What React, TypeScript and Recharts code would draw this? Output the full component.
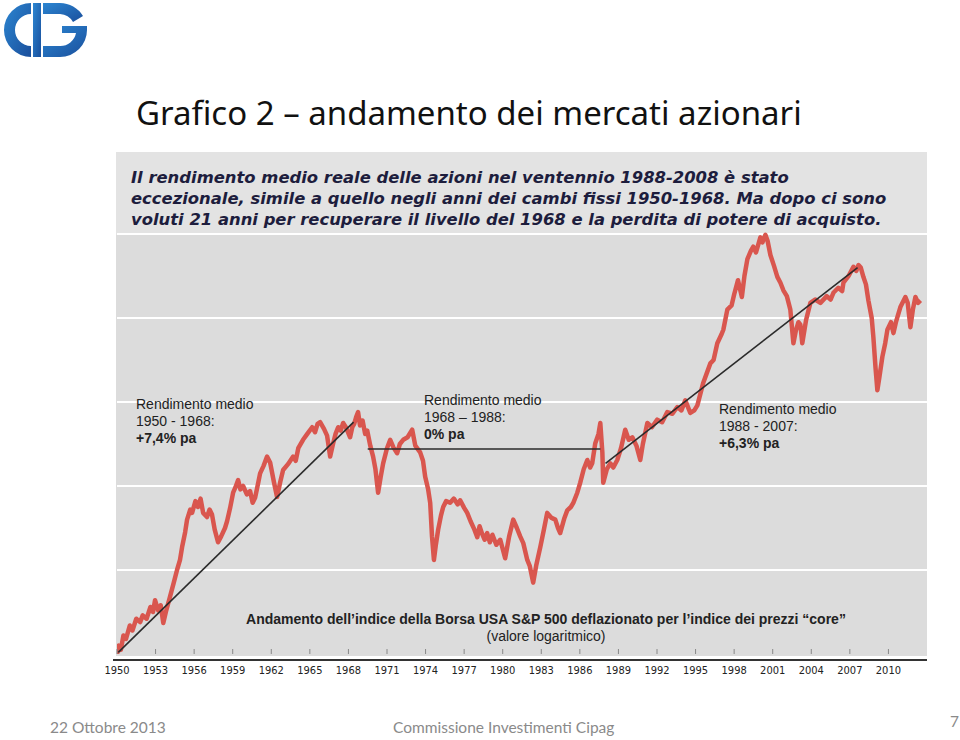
import { LineChart, Line, XAxis, YAxis, ReferenceLine } from "recharts";

// S&P 500 reale, scala logaritmica (1 unità = una linea della griglia)
const years = [
  1950.0, 1950.15, 1950.3, 1950.5, 1950.7, 1951.0, 1951.2, 1951.5, 1951.8, 1952.0,
  1952.3, 1952.6, 1952.8, 1952.96, 1953.2, 1953.4, 1953.6, 1953.8, 1954.12, 1954.4,
  1954.67, 1954.9, 1955.06, 1955.3, 1955.45, 1955.7, 1955.84, 1956.1, 1956.3, 1956.5,
  1956.7, 1957.0, 1957.2, 1957.39, 1957.6, 1957.86, 1958.1, 1958.4, 1958.56, 1958.8,
  1959.03, 1959.2, 1959.42, 1959.6, 1959.81, 1960.1, 1960.35, 1960.55, 1960.74, 1961.0,
  1961.13, 1961.4, 1961.67, 1961.91, 1962.2, 1962.45, 1962.7, 1962.92, 1963.3, 1963.7,
  1963.9, 1964.1, 1964.47, 1964.8, 1965.18, 1965.4, 1965.6, 1965.8, 1966.1, 1966.34,
  1966.58, 1966.8, 1967.0, 1967.2, 1967.4, 1967.59, 1967.8, 1968.13, 1968.3, 1968.45,
  1968.6, 1968.75, 1968.9, 1969.1, 1969.3, 1969.46, 1969.7, 1969.92, 1970.1, 1970.31,
  1970.5, 1970.7, 1971.0, 1971.25, 1971.5, 1971.79, 1972.0, 1972.26, 1972.6, 1972.96,
  1973.2, 1973.58, 1973.8, 1973.97, 1974.2, 1974.36, 1974.5, 1974.65, 1974.8, 1974.98,
  1975.2, 1975.37, 1975.6, 1975.91, 1976.2, 1976.5, 1976.69, 1977.0, 1977.24, 1977.5,
  1977.8, 1978.02, 1978.2, 1978.4, 1978.6, 1978.79, 1979.0, 1979.2, 1979.5, 1979.81,
  1980.0, 1980.19, 1980.5, 1980.82, 1981.1, 1981.36, 1981.6, 1981.91, 1982.1, 1982.37,
  1982.6, 1982.92, 1983.2, 1983.46, 1983.8, 1984.09, 1984.3, 1984.47, 1984.8, 1985.02,
  1985.3, 1985.49, 1985.8, 1986.03, 1986.3, 1986.58, 1986.8, 1986.96, 1987.2, 1987.45,
  1987.59, 1987.75, 1987.82, 1988.1, 1988.37, 1988.6, 1988.91, 1989.2, 1989.53, 1989.8,
  1990.08, 1990.4, 1990.7, 1990.9, 1991.25, 1991.6, 1992.02, 1992.4, 1992.8, 1993.2,
  1993.58, 1993.9, 1994.2, 1994.59, 1994.9, 1995.14, 1995.6, 1996.15, 1996.4, 1996.69,
  1997.0, 1997.16, 1997.47, 1997.8, 1998.0, 1998.3, 1998.6, 1998.8, 1999.03, 1999.3,
  1999.49, 1999.7, 2000.04, 2000.2, 2000.43, 2000.6, 2000.82, 2001.1, 2001.36, 2001.6,
  2001.83, 2002.1, 2002.37, 2002.61, 2002.8, 2003.0, 2003.15, 2003.3, 2003.6, 2003.93,
  2004.3, 2004.71, 2005.2, 2005.5, 2005.72, 2006.1, 2006.4, 2006.5, 2006.9, 2007.28,
  2007.5, 2007.67, 2007.85, 2008.05, 2008.25, 2008.44, 2008.7, 2008.83, 2009.0, 2009.14,
  2009.3, 2009.53, 2009.75, 2009.92, 2010.2, 2010.39, 2010.6, 2010.93, 2011.32, 2011.5,
  2011.71, 2011.9, 2012.1, 2012.3, 2012.49,
];
const realIndex = [
  0.0, 0.1, 0.05, 0.22, 0.18, 0.34, 0.28, 0.42, 0.38, 0.46,
  0.42, 0.56, 0.5, 0.64, 0.52, 0.58, 0.37, 0.5, 0.68, 0.84,
  1.0, 1.12, 1.27, 1.45, 1.6, 1.72, 1.68, 1.82, 1.75, 1.85,
  1.68, 1.63, 1.72, 1.66, 1.48, 1.33, 1.4, 1.5, 1.58, 1.74,
  1.92, 1.98, 2.07, 1.96, 2.0, 1.9, 1.94, 1.8, 1.86, 2.05,
  2.15, 2.24, 2.35, 2.28, 2.05, 1.87, 2.05, 2.19, 2.26, 2.35,
  2.3, 2.45, 2.55, 2.62, 2.7, 2.64, 2.74, 2.76, 2.68, 2.6,
  2.35, 2.5, 2.62, 2.7, 2.66, 2.75, 2.7, 2.58, 2.7, 2.74,
  2.82, 2.88, 2.72, 2.78, 2.62, 2.66, 2.48, 2.35, 2.2, 1.92,
  2.1, 2.27, 2.45, 2.55, 2.46, 2.39, 2.5, 2.55, 2.58, 2.67,
  2.48, 2.4, 2.3, 2.11, 1.96, 1.8, 1.4, 1.12, 1.3, 1.48,
  1.65, 1.75, 1.82, 1.8, 1.85, 1.78, 1.83, 1.74, 1.68, 1.58,
  1.48, 1.39, 1.52, 1.43, 1.36, 1.44, 1.33, 1.42, 1.3, 1.36,
  1.25, 1.14, 1.4, 1.6, 1.5, 1.4, 1.32, 1.12, 1.05, 0.85,
  1.05, 1.27, 1.48, 1.68, 1.62, 1.6, 1.5, 1.44, 1.62, 1.71,
  1.75, 1.8, 1.92, 2.04, 2.2, 2.31, 2.22, 2.27, 2.51, 2.62,
  2.75, 2.4, 2.04, 2.2, 2.27, 2.22, 2.31, 2.45, 2.67, 2.55,
  2.58, 2.48, 2.31, 2.5, 2.75, 2.7, 2.79, 2.76, 2.88, 2.86,
  2.94, 2.9, 3.02, 2.87, 2.9, 2.96, 3.23, 3.46, 3.5, 3.7,
  3.8, 3.86, 4.1, 4.15, 4.28, 4.45, 4.25, 4.5, 4.7, 4.8,
  4.85, 4.78, 4.96, 4.9, 4.99, 4.92, 4.75, 4.62, 4.49, 4.42,
  4.33, 4.26, 4.1, 3.7, 3.85, 3.95, 3.92, 3.7, 3.98, 4.18,
  4.22, 4.18, 4.26, 4.22, 4.3, 4.36, 4.32, 4.42, 4.5, 4.61,
  4.56, 4.63, 4.6, 4.49, 4.4, 4.21, 4.0, 3.77, 3.4, 3.14,
  3.3, 3.54, 3.7, 3.86, 3.95, 3.82, 3.96, 4.13, 4.25, 4.18,
  3.89, 4.1, 4.25, 4.18, 4.21,
];

// rette di tendenza
const trendUpYears = [1950.1, 1968.4];
const trendUpValues = [0.02, 2.76];
const trendFlatYears = [1969.5, 1987.6];
const trendFlatValues = [2.44, 2.44];
const trendLateYears = [1988.0, 2007.6];
const trendLateValues = [2.27, 4.6];

const xTicks = [1950, 1953, 1956, 1959, 1962, 1965, 1968, 1971, 1974, 1977, 1980, 1983, 1986, 1989, 1992, 1995, 1998, 2001, 2004, 2007, 2010];
const gridValues = [1, 2, 3, 4, 5];

const toRows = (xs: number[], vs: number[]) => xs.map((year, i) => ({ year, v: vs[i] }));

const seriesData = toRows(years, realIndex);
const trendUp = toRows(trendUpYears, trendUpValues);
const trendFlat = toRows(trendFlatYears, trendFlatValues);
const trendLate = toRows(trendLateYears, trendLateValues);

const YearTick = (props: any) => {
  const { x, y, payload } = props;
  return (
    <g>
      <line x1={x} x2={x} y1={y - 5} y2={y} stroke="#888" strokeWidth={1} />
      <text
        x={x}
        y={y + 20}
        textAnchor="middle"
        fill="#222"
        fontSize={11}
        fontFamily="'Liberation Sans Narrow', 'DejaVu Sans Condensed', sans-serif"
      >
        {payload.value}
      </text>
    </g>
  );
};

const Logo = () => (
  <svg width={92} height={62} style={{ position: "absolute", left: 0, top: 0 }}>
    <defs>
      <linearGradient id="lg" x1="0" y1="0" x2="1" y2="1">
        <stop offset="0%" stopColor="#2c86d2" />
        <stop offset="100%" stopColor="#1a4f9c" />
      </linearGradient>
    </defs>
    <path d="M31 3 A27 27 0 0 0 31 57 L31 46 A16 16 0 0 1 31 14 Z" fill="url(#lg)" />
    <rect x={33} y={3} width={8} height={54} fill="url(#lg)" />
    <path d="M43 3 L60 3 A27 27 0 0 1 83 16 L73 22 A16 16 0 0 0 60 14 L43 14 Z" fill="url(#lg)" />
    <path d="M43 46 L60 46 A16 16 0 0 0 76 33 L62 33 L62 26 L87 26 L87 30 A27 27 0 0 1 60 57 L43 57 Z" fill="url(#lg)" />
  </svg>
);

const noteStyle: React.CSSProperties = {
  position: "absolute",
  fontFamily: "'Liberation Sans', Arial, sans-serif",
  fontSize: 14,
  lineHeight: "17px",
  color: "#222",
};

const footStyle: React.CSSProperties = {
  position: "absolute",
  fontFamily: "Lato, sans-serif",
  fontSize: 15.5,
  color: "#8a8a8a",
  whiteSpace: "nowrap",
};

export default function App() {
  return (
    <div
      style={{
        position: "absolute",
        left: 0,
        top: 0,
        width: 960,
        height: 740,
        background: "#fff",
        overflow: "hidden",
      }}
    >
      <Logo />
      <div
        style={{
          position: "absolute",
          left: 136,
          top: 90,
          fontFamily: "'Noto Sans', sans-serif",
          fontSize: 33,
          color: "#111",
          whiteSpace: "nowrap",
        }}
      >
        Grafico 2 – andamento dei mercati azionari
      </div>

      {/* sfondo del grafico */}
      <div style={{ position: "absolute", left: 116, top: 152, width: 811, height: 504, background: "#dcdcdc" }} />
      <div style={{ position: "absolute", left: 116, top: 152, width: 811, height: 83, background: "#e3e3e3" }} />

      <div style={{ position: "absolute", left: 0, top: 0 }}>
        <LineChart width={960} height={700} margin={{ top: 150, right: 33, left: 117, bottom: 0 }}>
          <XAxis
            dataKey="year"
            type="number"
            domain={[1950, 2013]}
            ticks={xTicks}
            interval={0}
            height={46}
            axisLine={false}
            tickLine={false}
            tickSize={0}
            tickMargin={0}
            tick={<YearTick />}
            allowDataOverflow
          />
          <YAxis hide type="number" domain={[0, 6]} allowDataOverflow />
          {gridValues.map((g) => (
            <ReferenceLine key={g} y={g} stroke="#ffffff" strokeWidth={2} />
          ))}
          <Line
            data={seriesData}
            dataKey="v"
            type="linear"
            stroke="#d9564e"
            strokeWidth={4.5}
            strokeLinejoin="round"
            dot={false}
            isAnimationActive={false}
          />
          <Line data={trendUp} dataKey="v" stroke="#2b2b2b" strokeWidth={1.6} dot={false} isAnimationActive={false} />
          <Line data={trendFlat} dataKey="v" stroke="#2b2b2b" strokeWidth={1.6} dot={false} isAnimationActive={false} />
          <Line data={trendLate} dataKey="v" stroke="#2b2b2b" strokeWidth={1.6} dot={false} isAnimationActive={false} />
        </LineChart>
      </div>

      {/* asse orizzontale scuro */}
      <div style={{ position: "absolute", left: 113, top: 659, width: 814, height: 2, background: "#333" }} />

      {/* testo dell'intestazione */}
      <div
        style={{
          position: "absolute",
          left: 131,
          top: 167,
          fontFamily: "'DejaVu Sans', Verdana, sans-serif",
          fontWeight: "bold",
          fontStyle: "italic",
          fontSize: 16.4,
          lineHeight: "21px",
          color: "#1d1d3d",
          whiteSpace: "nowrap",
        }}
      >
        Il rendimento medio reale delle azioni nel ventennio 1988-2008 è stato
        <br />
        eccezionale, simile a quello negli anni dei cambi fissi 1950-1968. Ma dopo ci sono
        <br />
        voluti 21 anni per recuperare il livello del 1968 e la perdita di potere di acquisto.
      </div>

      <div style={{ ...noteStyle, left: 136, top: 396 }}>
        Rendimento medio
        <br />
        1950 - 1968:
        <br />
        <b>+7,4% pa</b>
      </div>
      <div style={{ ...noteStyle, left: 424, top: 392 }}>
        Rendimento medio
        <br />
        1968 – 1988:
        <br />
        <b>0% pa</b>
      </div>
      <div style={{ ...noteStyle, left: 719, top: 401 }}>
        Rendimento medio
        <br />
        1988 - 2007:
        <br />
        <b>+6,3% pa</b>
      </div>

      <div
        style={{
          ...noteStyle,
          left: 116,
          width: 860,
          top: 611,
          textAlign: "center",
          whiteSpace: "nowrap",
        }}
      >
        <b>Andamento dell’indice della Borsa USA S&amp;P 500 deflazionato per l’indice dei prezzi “core”</b>
        <br />
        (valore logaritmico)
      </div>

      {/* piè di pagina */}
      <div style={{ ...footStyle, left: 50, top: 718 }}>22 Ottobre 2013</div>
      <div style={{ ...footStyle, left: 393, top: 718 }}>Commissione Investimenti Cipag</div>
      <div style={{ ...footStyle, left: 950, top: 712 }}>7</div>
    </div>
  );
}
